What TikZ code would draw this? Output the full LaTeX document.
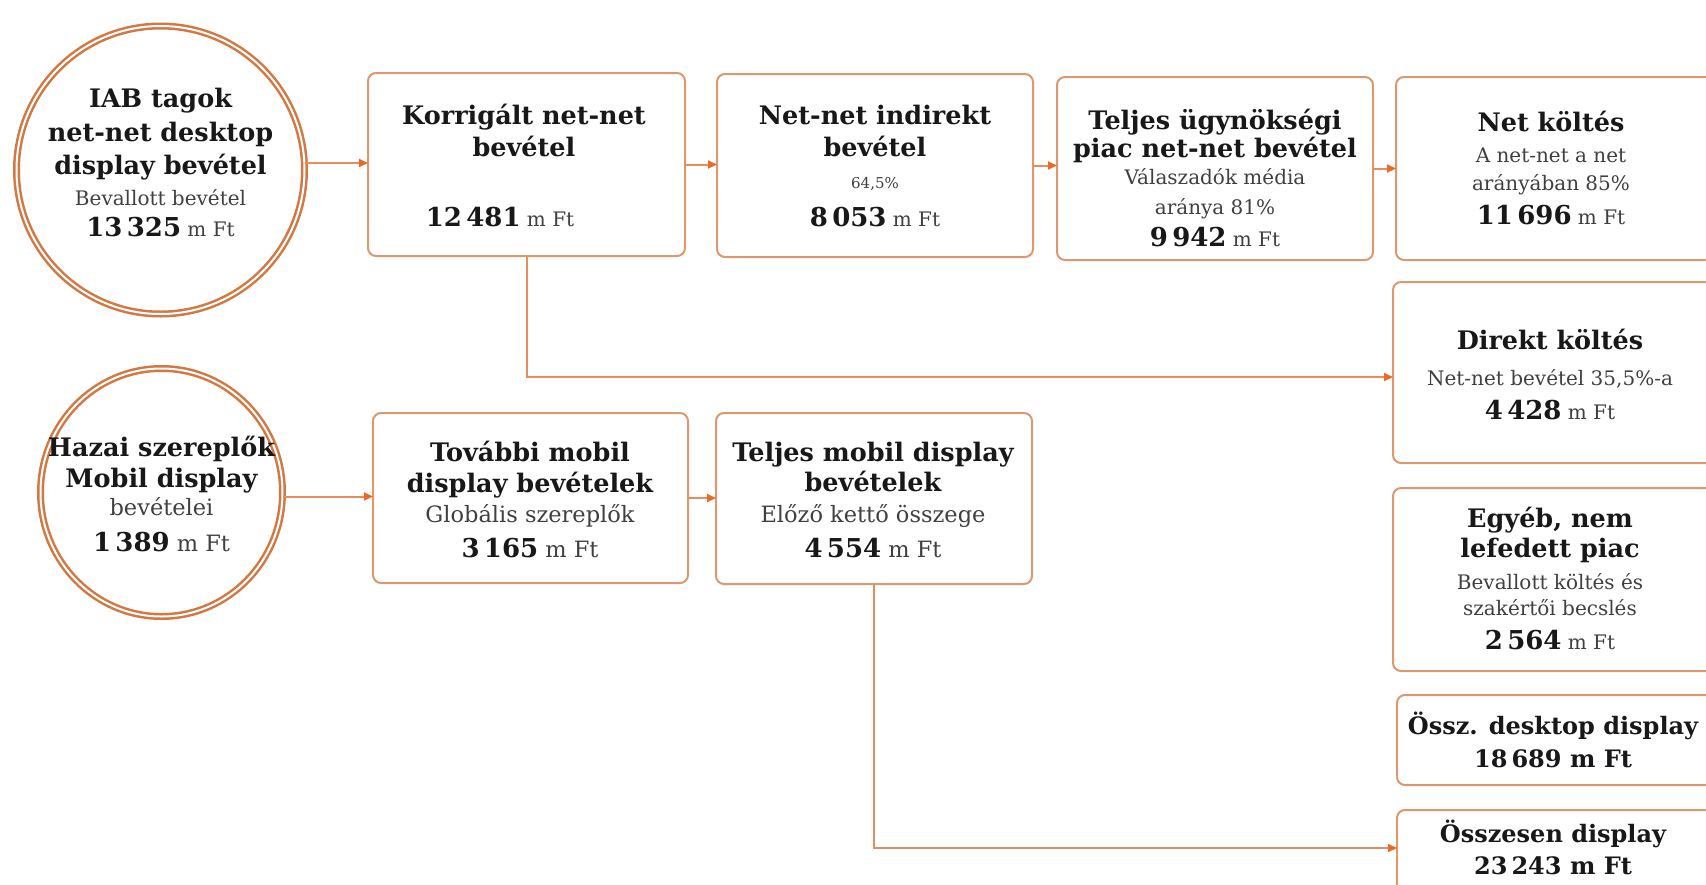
\documentclass[tikz,border=0pt]{standalone}
\usepackage{fontspec}
\setmainfont{DejaVu Serif}
\usetikzlibrary{arrows.meta,shapes.geometric}
\definecolor{boxc}{RGB}{222,152,112}
\definecolor{circc}{RGB}{210,120,66}
\definecolor{linec}{RGB}{228,142,96}
\definecolor{tipc}{RGB}{236,106,36}
\definecolor{txtc}{RGB}{24,24,24}
\definecolor{subc}{RGB}{64,64,64}
\newcommand{\bignum}[1]{{\fontsize{26}{31}\selectfont\bfseries\color{txtc}#1}}
\newcommand{\mybox}[5]{\node[box, minimum width={#4-#2}, minimum height={#5-#3}] (#1) at ({(#2+#4)/2},{(#3+#5)/2}) {};}
\newcommand{\mytext}[4]{\node[#1] (#2) at (#3) {#4};}
\tikzset{
  box/.style={draw=boxc, line width=2pt, rounded corners=8pt, fill=white, inner sep=0pt, outer sep=0pt},
  ring/.style={draw=circc, line width=2.5pt, double=white, double distance=2pt, inner sep=0pt, outer sep=0pt},
  hd/.style={font=\fontsize{25.5}{30}\selectfont\bfseries, text=txtc, inner sep=0pt, anchor=base},
  hds/.style={hd, font=\fontsize{24}{29}\selectfont\bfseries},
  sb/.style={font=\fontsize{20}{24}\selectfont, text=subc, inner sep=0pt, anchor=base},
  sbl/.style={font=\fontsize{22.5}{27}\selectfont, text=subc, inner sep=0pt, anchor=base},
  sm/.style={font=\fontsize{15}{18}\selectfont, text=subc, inner sep=0pt, anchor=base},
  conn/.style={draw=linec, line width=2pt, -{Triangle[length=9pt,width=8pt,color=tipc]}}
}
\begin{document}
\begin{tikzpicture}[x=1pt,y=-1pt]
\useasboundingbox (0,0) rectangle (1706,884);
% shapes
\node[ring, circle, minimum size=288] (c1) at (160.5,170) {};
\node[ring, ellipse, minimum width=242, minimum height=248] (c2) at (161.5,492.5) {};
\mybox{kor}{368}{73}{685}{256}
\mybox{ind}{717}{74}{1033}{257}
\mybox{ugy}{1057}{77}{1373}{260}
\mybox{net}{1396}{77}{1714}{260}
\mybox{dir}{1393}{282}{1714}{463}
\mybox{egy}{1393}{488}{1714}{671}
\mybox{des}{1397}{695}{1714}{785}
\mybox{ossz}{1397}{810}{1714}{894}
\mybox{tov}{373}{413}{688}{583}
\mybox{mob}{716}{413}{1032}{584}
% connectors
\draw[conn] ([yshift=7pt]c1.east) -- ([yshift=7pt]c1.east -| kor.west);
\draw[conn] (kor.east) -- (kor.east -| ind.west);
\draw[conn] (ind.east) -- (ind.east -| ugy.west);
\draw[conn] (ugy.east) -- (ugy.east -| net.west);
\draw[conn] (kor.south) |- ([yshift=-4.5pt]dir.west);
\draw[conn] ([yshift=-4pt]c2.east) -- ([yshift=-4pt]c2.east -| tov.west);
\draw[conn] (tov.east) -- (tov.east -| mob.west);
\draw[conn] (mob.south) |- ([yshift=4pt]ossz.west);
% circle 1
\mytext{hd}{c1a}{160.5,107.5}{IAB tagok}
\mytext{hd}{c1b}{160.5,141}{net-net desktop}
\mytext{hd}{c1c}{160.5,174.5}{display bevétel}
\mytext{sb}{c1d}{160.5,205}{Bevallott bevétel}
\mytext{sb}{c1e}{160.5,236}{\bignum{13\,325} m Ft}
% korrigalt
\mytext{hd}{kora}{524,124.5}{Korrigált net-net}
\mytext{hd}{korb}{524,156.5}{bevétel}
\mytext{sb}{korc}{500,226}{\bignum{12\,481} m Ft}
% indirekt
\mytext{hd}{inda}{875,124.5}{Net-net indirekt}
\mytext{hd}{indb}{875,156.5}{bevétel}
\mytext{sm}{indc}{875,188}{64,5\%}
\mytext{sb}{indd}{875,226}{\bignum{8\,053} m Ft}
% ugynoksegi
\mytext{hd}{ugya}{1215,129.5}{Teljes ügynökségi}
\mytext{hd}{ugyb}{1215,157.5}{piac net-net bevétel}
\mytext{sb}{ugyc}{1215,184}{Válaszadók média}
\mytext{sb}{ugyd}{1215,214}{aránya 81\%}
\mytext{sb}{ugye}{1215,246}{\bignum{9\,942} m Ft}
% net koltes
\mytext{hd}{neta}{1551,131.5}{Net költés}
\mytext{sb}{netb}{1551,162}{A net-net a net}
\mytext{sb}{netc}{1551,190}{arányában 85\%}
\mytext{sb}{netd}{1551,224}{\bignum{11\,696} m Ft}
% direkt
\mytext{hd}{dira}{1550,349.5}{Direkt költés}
\mytext{sb}{dirb}{1550,385}{Net-net bevétel 35,5\%-a}
\mytext{sb}{dirc}{1550,419}{\bignum{4\,428} m Ft}
% egyeb
\mytext{hd}{egya}{1550,527.5}{Egyéb, nem}
\mytext{hd}{egyb}{1550,557.5}{lefedett piac}
\mytext{sb}{egyc}{1550,589}{Bevallott költés és}
\mytext{sb}{egyd}{1550,615}{szakértői becslés}
\mytext{sb}{egye}{1550,649}{\bignum{2\,564} m Ft}
% ossz desktop
\mytext{hds}{desa}{1553,734.5}{Össz. desktop display}
\mytext{hds}{desb}{1553,767.5}{18\,689 m Ft}
% osszesen
\mytext{hds}{ossza}{1553,842.5}{Összesen display}
\mytext{hds}{osszb}{1553,874.5}{23\,243 m Ft}
% circle 2
\mytext{hd}{c2a}{161.5,456.5}{Hazai szereplők}
\mytext{hd}{c2b}{161.5,487.5}{Mobil display}
\mytext{sbl}{c2c}{161.5,515.5}{bevételei}
\mytext{sbl}{c2d}{161.5,551}{\bignum{1\,389} m Ft}
% tovabbi
\mytext{hd}{tova}{530,461.5}{További mobil}
\mytext{hd}{tovb}{530,492.5}{display bevételek}
\mytext{sbl}{tovc}{530,522.5}{Globális szereplők}
\mytext{sbl}{tovd}{530,557}{\bignum{3\,165} m Ft}
% teljes mobil
\mytext{hd}{moba}{873,461.5}{Teljes mobil display}
\mytext{hd}{mobb}{873,491.5}{bevételek}
\mytext{sbl}{mobc}{873,522.5}{Előző kettő összege}
\mytext{sbl}{mobd}{873,557}{\bignum{4\,554} m Ft}
\end{tikzpicture}
\end{document}
